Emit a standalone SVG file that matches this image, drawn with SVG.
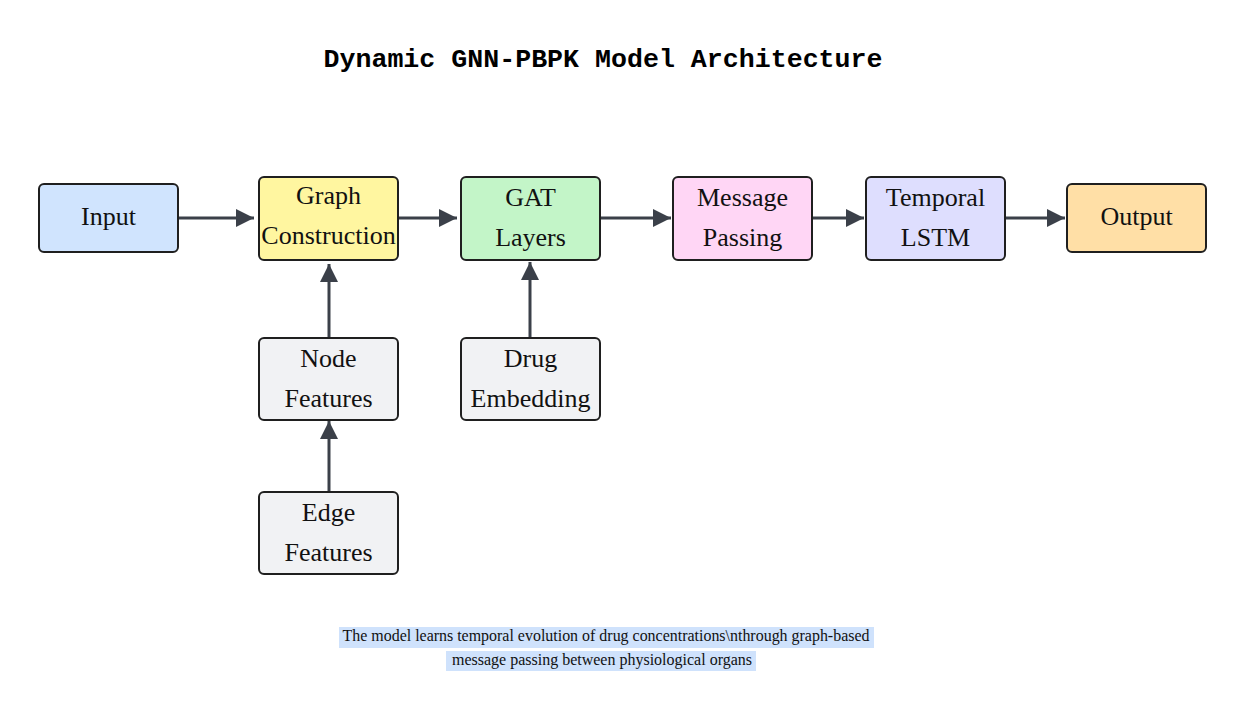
<svg xmlns="http://www.w3.org/2000/svg" width="1247" height="721" viewBox="0 0 1247 721">
<defs>
<marker id="ah" viewBox="0 0 10 10" refX="10" refY="5" markerWidth="6" markerHeight="6" markerUnits="strokeWidth" orient="auto">
<path d="M0,0 L10,5 L0,10 z" fill="#3b4049"/>
</marker>
<style>
.n rect{stroke:#1f1f1f;stroke-width:2}
.n text{font-family:"Liberation Serif","Times New Roman",serif;font-size:26px;fill:#111;text-anchor:middle}
.e{stroke:#3b4049;stroke-width:3;fill:none;marker-end:url(#ah)}
.title{font-family:"Liberation Mono","Courier New",monospace;font-weight:bold;font-size:26px;fill:#000;text-anchor:middle}
.cap{font-family:"Liberation Serif","Times New Roman",serif;font-size:16.5px;fill:#111;text-anchor:middle}
</style>
</defs>
<rect width="1247" height="721" fill="#ffffff"/>
<text class="title" x="603" y="67" textLength="559" lengthAdjust="spacingAndGlyphs">Dynamic GNN-PBPK Model Architecture</text>
<g id="connectors">
<path class="e" d="M178,218 H254"/>
<path class="e" d="M398,218 H457"/>
<path class="e" d="M600,218 H671"/>
<path class="e" d="M812,218 H864"/>
<path class="e" d="M1005,218 H1065"/>
<path class="e" d="M329,338 V264"/>
<path class="e" d="M329,492 V421"/>
<path class="e" d="M530,338 V262"/>
</g>
<g id="input" class="n"><rect x="39" y="184" width="139" height="68" rx="5" fill="#d0e4fe"/><text x="108.5" y="225">Input</text></g>
<g id="graph" class="n"><rect x="259" y="177" width="139" height="83" rx="5" fill="#fff6a0"/><text x="328.5" y="204">Graph</text><text x="328.5" y="244">Construction</text></g>
<g id="gat" class="n"><rect x="461" y="177" width="139" height="83" rx="5" fill="#c3f5c8"/><text x="530.5" y="206">GAT</text><text x="530.5" y="246">Layers</text></g>
<g id="message" class="n"><rect x="673" y="177" width="139" height="83" rx="5" fill="#ffd6f5"/><text x="742.5" y="206">Message</text><text x="742.5" y="246">Passing</text></g>
<g id="lstm" class="n"><rect x="866" y="177" width="139" height="83" rx="5" fill="#dedefe"/><text x="935.5" y="206">Temporal</text><text x="935.5" y="246">LSTM</text></g>
<g id="output" class="n"><rect x="1067" y="184" width="139" height="68" rx="5" fill="#ffdfa6"/><text x="1136.5" y="225">Output</text></g>
<g id="nodefeat" class="n"><rect x="259" y="338" width="139" height="82" rx="5" fill="#f1f2f4"/><text x="328.5" y="367">Node</text><text x="328.5" y="407">Features</text></g>
<g id="drug" class="n"><rect x="461" y="338" width="139" height="82" rx="5" fill="#f1f2f4"/><text x="530.5" y="367">Drug</text><text x="530.5" y="407">Embedding</text></g>
<g id="edgefeat" class="n"><rect x="259" y="492" width="139" height="82" rx="5" fill="#f1f2f4"/><text x="328.5" y="521">Edge</text><text x="328.5" y="561">Features</text></g>
<g id="caption">
<rect x="339" y="627" width="535" height="21" fill="#cfe2fc"/>
<rect x="446" y="651" width="310" height="20" fill="#cfe2fc"/>
<text class="cap" x="606" y="641" textLength="527" lengthAdjust="spacingAndGlyphs">The model learns temporal evolution of drug concentrations\nthrough graph-based</text>
<text class="cap" x="602" y="665" textLength="300" lengthAdjust="spacingAndGlyphs">message passing between physiological organs</text>
</g>
</svg>
